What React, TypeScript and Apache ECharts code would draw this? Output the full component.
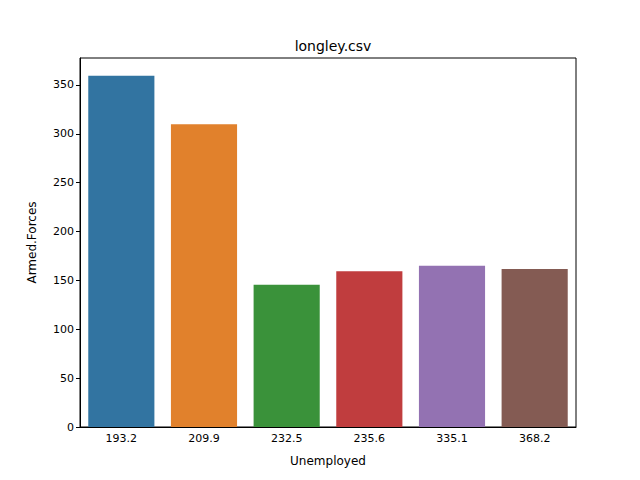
import React, { useEffect, useRef } from "react";
import * as echarts from "echarts";

const categories = ["193.2", "209.9", "232.5", "235.6", "335.1", "368.2"];
const values = [359.4, 309.9, 145.6, 159.4, 165.0, 161.6];
const colors = ["#3274a1", "#e1812c", "#3a923a", "#c03d3e", "#9372b2", "#845b53"];

export default function App() {
  const ref = useRef<HTMLDivElement>(null);
  useEffect(() => {
    const chart = echarts.init(ref.current!, null, { renderer: "svg" });
    const font = "DejaVu Sans";
    chart.setOption({
      animation: false,
      title: { text: "longley.csv", left: 328, top: 34, textAlign: "center", textStyle: { fontFamily: font, fontSize: 14, fontWeight: "normal", color: "#000" } },
      grid: { left: 80, right: 64, top: 58, bottom: 53, show: true, borderColor: "#000", borderWidth: 1 },
      xAxis: {
        type: "category", data: categories,
        name: "Unemployed", nameLocation: "middle", nameGap: 28,
        nameTextStyle: { fontFamily: font, fontSize: 12, color: "#000" },
        axisLine: { lineStyle: { color: "#000" } },
        axisTick: { alignWithLabel: true, length: 4, lineStyle: { color: "#000" } },
        axisLabel: { fontFamily: font, fontSize: 11, color: "#000", margin: 6 },
      },
      yAxis: {
        type: "value", min: 0, max: 377.6, interval: 50,
        name: "Armed.Forces", nameLocation: "middle", nameGap: 42,
        nameTextStyle: { fontFamily: font, fontSize: 12, color: "#000" },
        axisLine: { show: true, lineStyle: { color: "#000" } },
        axisTick: { show: true, length: 4, lineStyle: { color: "#000" } },
        axisLabel: { fontFamily: font, fontSize: 11, color: "#000", margin: 6, showMaxLabel: false },
        splitLine: { show: false },
      },
      series: [{
        type: "bar", barCategoryGap: "20%",
        data: values.map((v, i) => ({ value: v, itemStyle: { color: colors[i] } })),
      }],
    });
    return () => chart.dispose();
  }, []);
  return <div ref={ref} style={{ position: "absolute", left: 0, top: 0, width: 640, height: 480 }} />;
}
